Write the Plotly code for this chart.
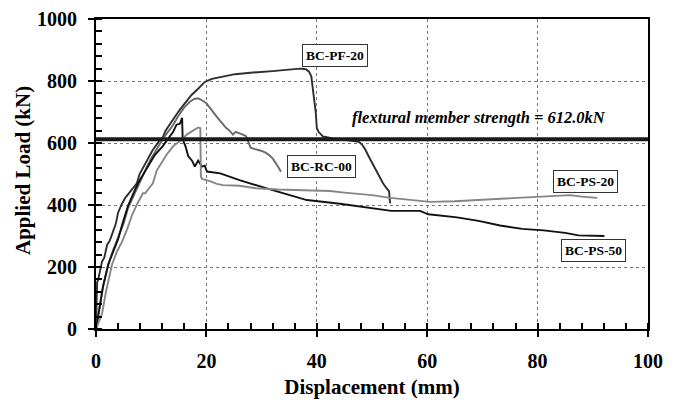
import plotly.graph_objects as go

# ---------------- data ----------------
pf20_x = [0, 0.2, 0.4, 0.8, 1.1, 1.5, 2.0, 2.5, 3.1, 3.6, 4.0, 4.6, 5.3, 6.5, 7.4, 7.9, 9.0, 10.2, 11.4, 12.1,
          12.6, 13.8, 15.0, 16.2, 17.3, 18.5, 19.7, 21.0, 22.5, 23.5, 25.2, 27.5, 29.9, 32.0, 33.9, 35.5,
          37.0, 38.0, 38.6, 39.0, 39.3, 39.6, 39.8, 40.0, 40.3, 41.1, 42.5, 43.6, 45.7, 47.0, 47.6, 48.2,
          48.8, 49.6, 50.4, 51.2, 52.0, 52.6, 53.1, 53.2, 53.3]
pf20_y = [0, 150, 160, 200, 218, 230, 271, 285, 312, 340, 375, 400, 423, 448, 470, 500, 535, 575, 605, 618,
          640, 672, 703, 730, 755, 775, 797, 807, 812, 816, 822, 826, 828, 832, 835, 838,
          840, 838, 830, 815, 776, 740, 700, 650, 636, 621, 615, 612, 609, 607, 604, 595,
          578, 550, 522, 497, 470, 455, 444, 420, 405]

rc00_x = [0, 0.3, 0.7, 1.2, 2.2, 3.0, 4.0, 5.0, 5.8, 6.8, 7.6, 8.5, 9.2, 10.0, 11.0, 12.0, 13.0, 14.0, 15.0,
          16.0, 17.0, 17.8, 18.5, 19.2, 20.0, 20.5, 21.2, 22.0, 22.8, 23.6, 24.2, 24.8, 25.3, 25.8, 26.5,
          27.2, 27.6, 28.0, 28.8, 29.9, 30.8, 31.5, 32.1, 32.7, 33.1, 33.5]
rc00_y = [0, 40, 75, 130, 205, 250, 292, 340, 390, 430, 462, 495, 522, 550, 580, 610, 635, 659, 690,
          715, 733, 742, 744, 738, 728, 716, 700, 682, 665, 648, 640, 627, 636, 633, 628,
          622, 605, 585, 580, 575, 568, 559, 548, 533, 520, 507]

ps50_x = [0, 0.3, 0.7, 1.3, 2.2, 3.0, 4.0, 4.8, 5.8, 6.6, 7.6, 8.6, 9.6, 10.6, 12.1, 13.2, 14.0, 14.6,
          15.2, 15.6, 15.7, 16.2, 16.7, 17.4, 17.9, 18.5, 19.2, 19.7, 20.1, 22.5, 26.0, 32.0, 38.2,
          44.2, 48.0, 51.2, 53.5, 58.7, 60.2, 65.4, 69.3, 73.2, 77.2, 81.1, 85.0, 87.4, 89.8, 92.1]
ps50_y = [0, 30, 70, 140, 208, 245, 290, 340, 397, 430, 470, 500, 530, 560, 590, 615, 637, 659,
          662, 681, 612, 590, 558, 543, 524, 543, 524, 527, 508, 502, 480, 448, 416,
          404, 395, 386, 381, 381, 370, 360, 349, 334, 323, 318, 310, 302, 302, 300]

ps20_x = [0, 0.4, 1.1, 1.8, 2.9, 3.8, 4.7, 5.6, 6.5, 7.5, 8.5, 8.9, 10.3, 11.0, 12.0, 12.9, 14.0, 15.2,
          16.5, 17.4, 18.5, 18.9, 19.0, 19.2, 20.5, 21.9, 23.0, 26.0, 29.0, 33.0, 38.0, 42.4, 45.0,
          50.0, 53.3, 56.0, 58.7, 60.5, 65.0, 69.6, 74.0, 78.6, 82.0, 85.9, 88.0, 90.8]
ps20_y = [0, 20, 50, 120, 208, 250, 281, 320, 366, 405, 438, 438, 470, 511, 540, 565, 590, 606,
          628, 637, 650, 648, 492, 484, 478, 468, 464, 462, 454, 450, 448, 445, 440,
          432, 423, 418, 413, 410, 412, 416, 420, 426, 428, 432, 427, 423]

strength = 612.0

x_ticks = [0, 20, 40, 60, 80, 100]
y_ticks = [0, 200, 400, 600, 800, 1000]

labels = ["BC-PF-20", "BC-RC-00", "BC-PS-20", "BC-PS-50"]
label_x = [43.3, 40.8, 88.6, 90.2]
label_y = [883, 525, 476, 252]

# ---------------- figure ----------------
FONT = "Liberation Serif, Times New Roman, serif"
fig = go.Figure()

series = [
    (pf20_x, pf20_y, "#2e2e2e"),
    (rc00_x, rc00_y, "#6a6a6a"),
    (ps50_x, ps50_y, "#111111"),
    (ps20_x, ps20_y, "#858585"),
]
names = ["BC-PF-20", "BC-RC-00", "BC-PS-50", "BC-PS-20"]
for (xs, ys, c), n in zip(series, names):
    fig.add_trace(go.Scatter(x=xs, y=ys, mode="lines", name=n,
                             line=dict(color=c, width=1.9), showlegend=False))

# flexural strength line
fig.add_trace(go.Scatter(x=[0, 100], y=[strength, strength], mode="lines",
                         line=dict(color="#1a1a1a", width=4), showlegend=False))

fig.add_annotation(x=69.4, y=681, xref="x", yref="y", showarrow=False,
                   text="<b><i>flextural member strength = %.1fkN</i></b>" % strength,
                   font=dict(family=FONT, size=16.5, color="black"))

for t, lx, ly in zip(labels, label_x, label_y):
    fig.add_annotation(x=lx, y=ly, xref="x", yref="y", showarrow=False,
                       text="<b>%s</b>" % t,
                       font=dict(family=FONT, size=13.5, color="black"),
                       bgcolor="white", bordercolor="#333", borderwidth=1, borderpad=3)

# y axis title
fig.add_annotation(x=-0.132, y=0.51, xref="paper", yref="paper", showarrow=False,
                   text="<b>Applied Load (kN)</b>", textangle=-90,
                   font=dict(family=FONT, size=21, color="black"),
                   xanchor="center", yanchor="middle")

axis_common = dict(showline=True, linecolor="black", linewidth=2, mirror=True,
                   showgrid=True, gridcolor="#777", griddash="dot", gridwidth=1,
                   zeroline=False, ticks="outside", ticklen=6, tickwidth=2, tickcolor="black",
                   automargin=False, ticklabeloverflow="allow",
                   tickfont=dict(family=FONT, size=20, color="black", weight="bold"))

fig.update_layout(
    width=674, height=398,
    margin=dict(l=88, r=34, t=11, b=77, autoexpand=False),
    paper_bgcolor="white", plot_bgcolor="white",
    font=dict(family=FONT, color="black"),
    xaxis=dict(range=[0, 100], tickvals=x_ticks, ticktext=[str(v) for v in x_ticks],
               ticklabelstandoff=7,
               minor=dict(ticks="inside", ticklen=6, tickwidth=1.5, tickcolor="black", dtick=4, showgrid=False),
               title=dict(text="Displacement (mm)", font=dict(family=FONT, size=21, weight="bold"), standoff=8),
               **axis_common),
    yaxis=dict(range=[0, 1000], tickvals=y_ticks, ticktext=[str(v) for v in y_ticks],
               ticklabelstandoff=7,
               minor=dict(ticks="inside", ticklen=6, tickwidth=1.5, tickcolor="black", dtick=40, showgrid=False),
               **axis_common),
    xaxis2=dict(range=[0, 100], overlaying="x", anchor="y", side="bottom", tickvals=x_ticks,
                showticklabels=False, ticks="inside", ticklen=6, tickwidth=2, tickcolor="black",
                showgrid=False, showline=False, zeroline=False),
    yaxis2=dict(range=[0, 1000], overlaying="y", anchor="x", side="left", tickvals=y_ticks,
                showticklabels=False, ticks="inside", ticklen=6, tickwidth=2, tickcolor="black",
                showgrid=False, showline=False, zeroline=False),
)

fig.write_html("out.html")
